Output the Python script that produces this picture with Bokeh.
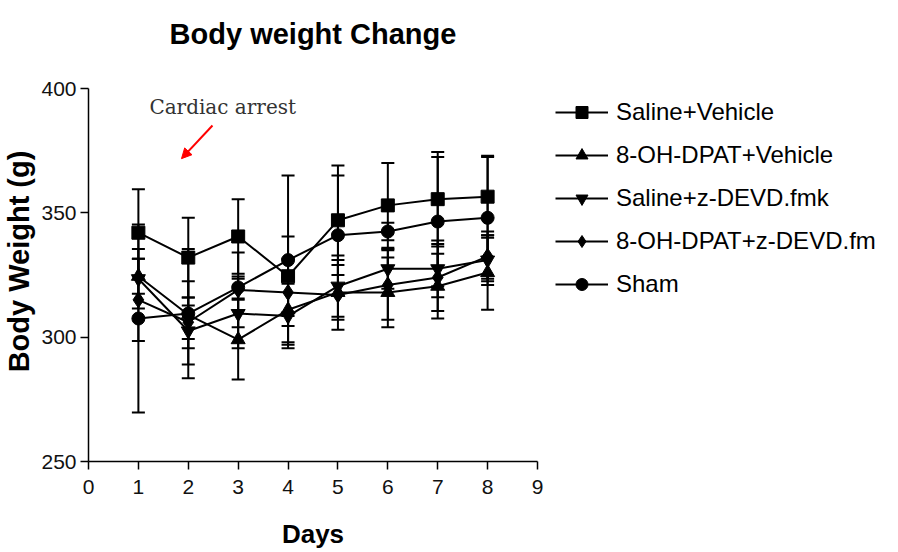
from bokeh.plotting import figure
from bokeh.models import (Range1d, FixedTicker, Whisker, TeeHead, ColumnDataSource,
                          Legend, LegendItem, Label, Arrow, NormalHead)
from bokeh.embed import file_html
from bokeh.resources import INLINE

# Body weight (g) per day, mean and error for each treatment group
days = [1, 2, 3, 4, 5, 6, 7, 8]

saline_vehicle = [342.0, 332.0, 340.5, 324.5, 347.0, 353.0, 355.5, 356.5]
saline_vehicle_err = [17.5, 16.0, 15.0, 16.0, 22.0, 17.0, 19.0, 16.5]

dpat_vehicle = [324.5, 309.0, 299.0, 311.0, 318.0, 318.0, 320.5, 326.0]
dpat_vehicle_err = [7.0, 13.5, 16.0, 13.0, 11.0, 14.0, 13.0, 15.0]

saline_devd = [323.5, 302.5, 309.5, 308.5, 320.5, 327.5, 327.5, 331.0]
saline_devd_err = [12.0, 13.5, 14.0, 13.0, 12.3, 8.0, 11.4, 10.0]

dpat_devd = [315.0, 306.0, 319.0, 318.0, 317.0, 321.0, 324.0, 332.5]
dpat_devd_err = [16.5, 6.7, 15.0, 13.5, 14.0, 14.0, 13.5, 10.0]

sham = [307.5, 309.5, 320.0, 331.0, 341.0, 342.5, 346.5, 348.0]
sham_err = [37.8, 26.0, 4.4, 34.0, 24.0, 3.5, 26.0, 24.5]

group_names = ["Saline+Vehicle", "8-OH-DPAT+Vehicle", "Saline+z-DEVD.fmk",
               "8-OH-DPAT+z-DEVD.fm", "Sham"]
group_means = [saline_vehicle, dpat_vehicle, saline_devd, dpat_devd, sham]
group_errs = [saline_vehicle_err, dpat_vehicle_err, saline_devd_err, dpat_devd_err, sham_err]
group_markers = ["square", "triangle", "inverted_triangle", "diamond", "circle"]
group_sizes = [13, 14, 14, 16, 13]

x_ticks = [0, 1, 2, 3, 4, 5, 6, 7, 8, 9]
y_ticks = [250, 300, 350, 400]

FONT = "Liberation Sans"

p = figure(frame_width=449, frame_height=400, output_backend="svg",
           toolbar_location=None,
           x_range=Range1d(0, 9), y_range=Range1d(250, 410.86),
           min_border_left=88, min_border_bottom=91, min_border_top=61,
           min_border_right=0)
p.outline_line_color = None
p.xgrid.visible = False
p.ygrid.visible = False
p.background_fill_color = "white"

p.title.text = "Body weight Change"
p.title.align = "center"
p.title.text_font = FONT
p.title.text_font_style = "bold"
p.title.text_font_size = "29px"
p.title.text_color = "black"
p.title.standoff = 23

# y axis stops at 400 while the frame leaves headroom for the note
p.yaxis.bounds = (250, 400)
p.xaxis.ticker = FixedTicker(ticks=x_ticks)
p.yaxis.ticker = FixedTicker(ticks=y_ticks)
for ax in (p.xaxis[0], p.yaxis[0]):
    ax.axis_line_width = 1.5
    ax.axis_line_color = "black"
    ax.major_tick_line_width = 1.5
    ax.major_tick_line_color = "black"
    ax.major_tick_in = 0
    ax.major_tick_out = 8
    ax.minor_tick_line_color = None
    ax.major_label_text_font = FONT
    ax.major_label_text_font_size = "21px"
    ax.major_label_text_color = "#111111"
    ax.axis_label_text_font = FONT
    ax.axis_label_text_font_style = "bold"
    ax.axis_label_text_color = "black"

p.xaxis.axis_label = "Days"
p.xaxis.axis_label_text_font_size = "26px"
p.xaxis.major_label_standoff = 10
p.xaxis.axis_label_standoff = 22
p.yaxis.axis_label = "Body Weight (g)"
p.yaxis.axis_label_text_font_size = "29px"
p.yaxis.major_label_standoff = 4
p.yaxis.axis_label_standoff = 3

# error bars
for means, errs in zip(group_means, group_errs):
    src = ColumnDataSource(dict(
        x=days,
        upper=[m + e for m, e in zip(means, errs)],
        lower=[m - e for m, e in zip(means, errs)],
    ))
    p.add_layout(Whisker(source=src, base="x", upper="upper", lower="lower",
                         dimension="height", line_color="black", line_width=2,
                         upper_head=TeeHead(size=13, line_width=2, line_color="black"),
                         lower_head=TeeHead(size=13, line_width=2, line_color="black")))

items = []
for name, means, marker, size in zip(group_names, group_means, group_markers, group_sizes):
    src = ColumnDataSource(dict(x=days, y=means))
    ln = p.line("x", "y", source=src, line_color="black", line_width=2)
    sc = p.scatter("x", "y", source=src, marker=marker, size=size,
                   fill_color="black", line_color="black")
    items.append(LegendItem(label=name, renderers=[ln, sc]))

legend = Legend(items=items, location=(18, 162), orientation="vertical")
legend.label_text_font = FONT
legend.label_text_font_size = "24px"
legend.label_text_color = "black"
legend.glyph_width = 53
legend.glyph_height = 30
legend.label_height = 30
legend.label_standoff = 8
legend.spacing = 13
legend.padding = 0
legend.margin = 0
legend.border_line_color = None
legend.background_fill_alpha = 0
p.add_layout(legend, "right")

# note marking the day of cardiac arrest
p.add_layout(Label(x=2.69, y=392.4, text="Cardiac arrest", text_align="center",
                   text_baseline="middle", text_font="DejaVu Serif",
                   text_font_size="20px", text_color="#333333"))
p.add_layout(Arrow(x_start=2.485, y_start=385.1, x_end=1.864, y_end=371.8,
                   line_color="red", line_width=2,
                   end=NormalHead(size=10, fill_color="red", line_color="red")))

open("out.html", "w").write(file_html(p, INLINE))
